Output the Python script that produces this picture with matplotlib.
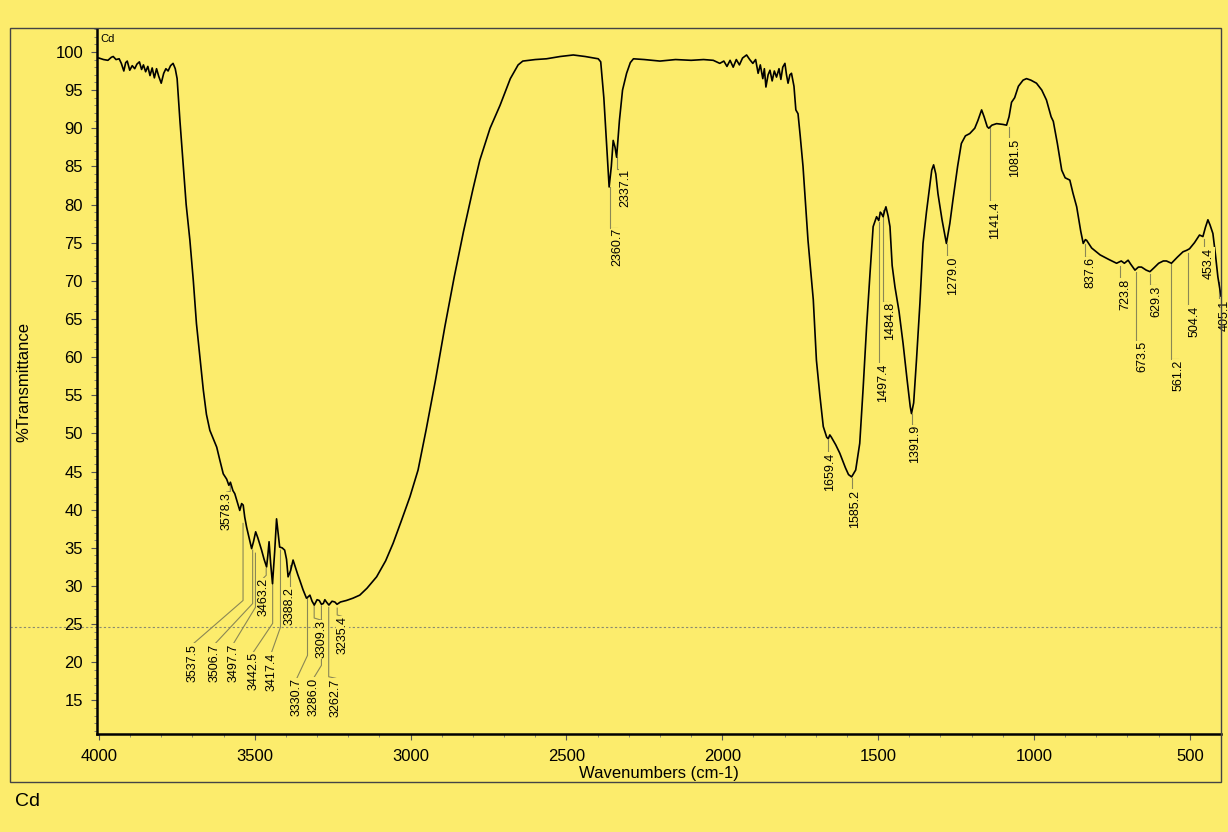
import matplotlib.pyplot as plt
from matplotlib.patches import Rectangle
from matplotlib.ticker import MultipleLocator

# spectrum (wavenumber cm-1, %T)
wavenumber = [
    4000, 3985, 3971, 3960, 3954, 3945, 3935, 3928, 3920, 3914, 3909, 3901, 3893, 3885,
    3878, 3870, 3863, 3857, 3850, 3843, 3836, 3829, 3822, 3815, 3808, 3800, 3792, 3785,
    3778, 3770, 3762, 3755, 3749, 3740, 3730, 3720, 3708, 3697, 3687, 3676, 3665, 3655,
    3644, 3633, 3622, 3612, 3601, 3590, 3583, 3578, 3570, 3564, 3556, 3548, 3542, 3537,
    3532, 3526, 3518, 3510, 3504, 3497, 3490, 3484, 3478, 3470, 3462, 3458, 3454, 3449,
    3443, 3436, 3430, 3425, 3420, 3412, 3404, 3398, 3393, 3385, 3377, 3370, 3362, 3355,
    3345, 3334, 3328, 3323, 3316, 3309, 3300, 3293, 3286, 3280, 3275, 3270, 3262, 3252,
    3243, 3236, 3225, 3206, 3185, 3163, 3140, 3109, 3080, 3056, 3030, 3002, 2976, 2950,
    2920, 2890, 2860, 2830, 2800, 2778, 2745, 2713, 2680, 2655, 2640, 2600, 2564, 2520,
    2478, 2440, 2398, 2390, 2380, 2370, 2363, 2356, 2350, 2344, 2339, 2330, 2320, 2307,
    2295, 2285, 2250, 2200, 2150, 2100, 2060, 2029, 2008, 1995, 1985, 1975, 1965, 1955,
    1945, 1935, 1922, 1912, 1902, 1893, 1885, 1878, 1870, 1865, 1860, 1853, 1847, 1840,
    1833, 1826, 1818, 1812, 1806, 1799, 1794, 1789, 1783, 1778, 1770, 1764, 1757, 1750,
    1741, 1725, 1708, 1698, 1687, 1676, 1665, 1660, 1655, 1650, 1636, 1623, 1605, 1595,
    1585, 1572, 1559, 1548, 1537, 1526, 1516, 1505, 1498, 1493, 1489, 1484, 1479, 1475,
    1468, 1462, 1455, 1446, 1433, 1420, 1407, 1397, 1393, 1386, 1377, 1366, 1356, 1345,
    1335, 1328, 1322, 1315, 1308, 1295, 1281, 1270, 1260, 1245, 1233, 1220, 1206, 1190,
    1180, 1168, 1160, 1150, 1145, 1135, 1120, 1100, 1088, 1080, 1072, 1062, 1050, 1035,
    1024, 1010, 992, 975, 960, 945, 938, 925, 911, 900, 885, 875, 863, 850,
    842, 835, 831, 815, 800, 788, 760, 735, 720, 710, 698, 690, 676, 665,
    655, 640, 628, 615, 600, 585, 575, 559, 540, 522, 510, 501, 485, 469,
    458, 450, 442, 435, 426, 418, 410, 400,
]
transmittance = [
    99.2, 99.0, 98.9, 99.3, 99.4, 99.0, 99.1, 98.5, 97.5, 98.6, 98.8, 97.6, 98.2, 97.8,
    98.4, 98.7, 97.7, 98.3, 97.4, 98.1, 96.9, 97.9, 96.6, 97.8, 96.8, 95.9, 97.2, 97.8,
    97.5, 98.2, 98.5, 97.8, 96.5, 91.0, 85.4, 80.0, 75.3, 70.0, 64.4, 60.0, 55.7, 52.5,
    50.4, 49.3, 48.2, 46.5, 44.7, 44.0, 43.2, 43.6, 42.5, 42.1, 41.0, 39.9, 40.8, 40.6,
    39.0, 37.7, 36.3, 34.9, 35.8, 37.1, 36.3, 35.5, 34.7, 33.5, 32.5, 34.0, 35.8, 33.0,
    30.3, 34.5, 38.8, 37.0, 35.1, 35.0, 34.7, 33.5, 31.2, 32.0, 33.4, 32.5, 31.5, 30.7,
    29.5, 28.4, 28.6, 28.8, 28.0, 27.5, 28.2, 28.1, 27.6, 27.7, 28.2, 27.9, 27.5, 28.0,
    27.9, 27.6, 27.9, 28.1, 28.4, 28.8, 29.7, 31.2, 33.3, 35.6, 38.5, 41.7, 45.2, 50.5,
    57.0, 64.0, 70.5, 76.5, 82.0, 85.8, 90.0, 93.0, 96.5, 98.3, 98.8, 99.0, 99.1, 99.4,
    99.6, 99.4, 99.1, 98.7, 94.0, 87.0, 82.3, 85.0, 88.4, 87.5, 86.2, 91.0, 95.0, 97.2,
    98.6, 99.1, 99.0, 98.8, 99.0, 98.9, 99.0, 98.9, 98.5, 98.8, 98.1, 98.9, 98.0, 99.0,
    98.3, 99.2, 99.6, 99.0, 98.5, 99.0, 97.2, 98.3, 96.5, 97.8, 95.4, 97.0, 97.6, 96.2,
    97.5, 96.7, 97.8, 96.4, 98.0, 98.5, 97.0, 95.9, 97.0, 97.2, 95.5, 92.4, 91.9, 89.0,
    85.0, 75.3, 67.5, 59.6, 55.0, 50.9, 49.5, 49.3, 49.8, 49.5, 48.5, 47.4, 45.5, 44.6,
    44.3, 45.2, 48.7, 56.0, 64.0, 71.0, 77.1, 78.4, 77.9, 79.0, 78.8, 78.4, 79.2, 79.7,
    78.5, 77.1, 72.0, 69.2, 66.0, 61.8, 57.0, 53.5, 52.6, 54.0, 59.6, 67.0, 74.9, 79.0,
    82.3, 84.5, 85.2, 84.0, 81.4, 78.0, 74.9, 77.5, 80.6, 85.0, 88.0, 89.0, 89.3, 90.0,
    91.0, 92.4, 91.5, 90.2, 90.0, 90.4, 90.6, 90.5, 90.4, 91.5, 93.4, 94.0, 95.5, 96.3,
    96.5, 96.3, 95.9, 95.0, 93.7, 91.5, 90.9, 88.0, 84.5, 83.5, 83.2, 81.5, 79.7, 76.5,
    74.9, 75.4, 75.3, 74.3, 73.8, 73.4, 72.8, 72.3, 72.6, 72.3, 72.7, 72.2, 71.4, 71.8,
    71.8, 71.4, 71.2, 71.7, 72.3, 72.6, 72.6, 72.3, 73.1, 73.8, 74.0, 74.2, 75.0, 76.0,
    75.8, 77.0, 78.0, 77.3, 76.2, 73.5, 70.5, 68.0,
]

# peak picks printed on the chart
peak_wn = [3578.3, 3537.5, 3506.7, 3497.7, 3463.2, 3442.5, 3417.4, 3388.2, 3330.7,
           3309.3, 3286.0, 3262.7, 3235.4, 2360.7, 2337.1, 1659.4, 1585.2, 1497.4,
           1484.8, 1391.9, 1279.0, 1141.4, 1081.5, 837.6, 723.8, 673.5, 629.3,
           561.2, 504.4, 453.4, 405.1]

# leader layout: top of line, elbow, label x, label top
lead_top = [43.3, 38.2, 34.7, 34.3, 32.3, 30.5, 34.7, 32.7, 28.4, 27.5, 27.4, 27.2,
            27.1, 82.3, 86.2, 49.1, 44.1, 77.7, 79.3, 52.6, 74.8, 90.1, 90.1, 74.8,
            71.9, 71.1, 70.9, 72.2, 73.6, 75.5, 69.9]
lead_elbow = [42.4, 28.1, 27.7, 27.2, 31.4, 25.1, 24.6, 29.8, 20.9, 25.8, 19.6, 18.1,
              26.2, 76.9, 84.7, 47.5, 42.6, 59.1, 67.2, 51.1, 73.2, 80.4, 88.6, 73.1,
              70.3, 62.1, 69.4, 59.7, 66.7, 74.3, 67.5]
label_x = [3590, 3698, 3628, 3569, 3473, 3505, 3446, 3387, 3365, 3285, 3310, 3240,
           3219, 2337, 2310, 1655, 1575, 1484, 1462, 1382, 1259, 1125, 1061, 818,
           706, 652, 607, 537, 484, 441, 388]
label_y = [42.3, 22.4, 22.4, 22.4, 31.0, 21.3, 21.3, 29.8, 17.9, 25.5, 18.0, 17.9,
           26.0, 76.9, 84.7, 47.5, 42.6, 59.1, 67.2, 51.1, 73.2, 80.4, 88.6, 73.1,
           70.3, 62.1, 69.4, 59.7, 66.7, 74.3, 67.5]

bg = '#fcec6c'
plt.rcParams['font.family'] = ['Liberation Sans', 'DejaVu Sans']

fig = plt.figure(figsize=(12.28, 8.32), dpi=100, facecolor=bg)
ax = fig.add_axes([0.079, 0.1178, 0.9153, 0.8473])
ax.set_facecolor(bg)

ax.plot(wavenumber, transmittance, color='black', lw=1.2, zorder=3)

for i in range(len(peak_wn)):
    ax.plot([peak_wn[i], peak_wn[i], label_x[i]],
            [lead_top[i], lead_elbow[i], label_y[i]],
            color='#8a8755', lw=0.8, zorder=2)
    ax.text(label_x[i], label_y[i], f'{peak_wn[i]:.1f}', rotation=90,
            ha='center', va='top', fontsize=9, zorder=4, clip_on=False,
            bbox=dict(fc=bg, ec='none', pad=0.4))

ax.set_xlim(4006, 400)
ax.set_ylim(10.6, 103)
ax.set_xticks([4000, 3500, 3000, 2500, 2000, 1500, 1000, 500])
ax.set_yticks(range(15, 101, 5))
ax.xaxis.set_minor_locator(MultipleLocator(100))
ax.yaxis.set_minor_locator(MultipleLocator(1))
ax.tick_params(axis='both', which='major', labelsize=12, length=4, width=0.8,
               color='#555555')
ax.tick_params(axis='x', which='major', pad=7)
ax.tick_params(axis='y', which='major', pad=6)
ax.tick_params(which='minor', length=2, width=0.6, color='#777777')

for side in ['top', 'right']:
    ax.spines[side].set_visible(False)
for side in ['left', 'bottom']:
    ax.spines[side].set_linewidth(1.8)

ax.set_xlabel('Wavenumbers (cm-1)', fontsize=12, labelpad=1)
ax.set_ylabel('%Transmittance', fontsize=12, labelpad=17)

# faint dotted line from the scan
ax.axhline(24.6, xmin=-0.0774, xmax=1.0, color='#8a8a70', lw=0.8, ls=(0, (2, 2)),
           clip_on=False, zorder=1)

ax.text(0.003, 0.993, 'Cd', transform=ax.transAxes, fontsize=8, va='top', ha='left')
fig.text(0.012, 0.027, 'Cd', fontsize=14, va='bottom', ha='left')

# outer frame
fig.patches.append(Rectangle((0.0081, 0.0601), 0.9862, 0.9062, transform=fig.transFigure,
                             fill=False, ec='#444444', lw=1.0))

fig.savefig('out.png', dpi=100, facecolor=bg)
